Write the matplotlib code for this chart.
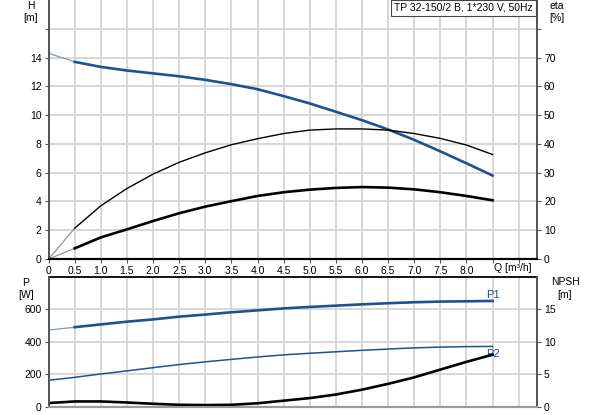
import numpy as np
import matplotlib
matplotlib.use("Agg")
from matplotlib import pyplot as plt
from matplotlib import transforms

plt.rcParams['font.family'] = ['Liberation Sans', 'DejaVu Sans']
plt.rcParams['font.size'] = 7.5

# flow points [m3/h]
q = [0, 0.5, 1.0, 1.5, 2.0, 2.5, 3.0, 3.5, 4.0, 4.5, 5.0, 5.5, 6.0, 6.5, 7.0, 7.5, 8.0, 8.5]

# head [m]
head = [14.3, 13.7, 13.35, 13.1, 12.9, 12.7, 12.45, 12.15, 11.8, 11.32, 10.81, 10.23, 9.65, 9.0, 8.28, 7.48, 6.65, 5.8]
# efficiencies [%]
eta_pump = [0, 10.7, 18.5, 24.5, 29.5, 33.6, 36.9, 39.7, 41.8, 43.6, 44.8, 45.2, 45.2, 44.8, 43.6, 41.9, 39.6, 36.3]
eta_total = [0, 3.7, 7.5, 10.3, 13.2, 15.9, 18.2, 20.1, 21.9, 23.2, 24.1, 24.7, 25.0, 24.8, 24.2, 23.2, 21.9, 20.4]
# power [W]
p1 = [472, 490, 507, 524, 538, 555, 568, 582, 594, 606, 615, 623, 631, 638, 644, 648, 650, 652]
p2 = [162, 180, 201, 220, 240, 259, 276, 291, 306, 319, 329, 338, 347, 355, 362, 367, 370, 371]
# NPSH [m]
npsh = [0.53, 0.78, 0.78, 0.62, 0.42, 0.26, 0.22, 0.26, 0.5, 0.9, 1.3, 1.85, 2.6, 3.5, 4.5, 5.7, 6.9, 8.0]

title = "TP 32-150/2 B, 1*230 V, 50Hz"
xticks = [0, 0.5, 1.0, 1.5, 2.0, 2.5, 3.0, 3.5, 4.0, 4.5, 5.0, 5.5, 6.0, 6.5, 7.0, 7.5, 8.0, 8.5, 9.0]
xlabels = ['0', '0.5', '1.0', '1.5', '2.0', '2.5', '3.0', '3.5', '4.0', '4.5', '5.0', '5.5', '6.0', '6.5', '7.0', '7.5', '8.0', '', '']

blue = '#1d5190'
blue_thin = '#7f97b8'
grey_thin = '#8a8a8a'
grid_c = '#d4d4d4'

W, H = 593, 415
fig = plt.figure(figsize=(W / 100, H / 100), dpi=100)

def px(x0, y0, x1, y1):
    return [x0 / W, 1 - y1 / H, (x1 - x0) / W, (y1 - y0) / H]

ax1 = fig.add_axes(px(48.6, 0, 537, 259))
ax2 = ax1.twinx()
ax3 = fig.add_axes(px(48.6, 277, 537, 406.5))
ax4 = ax3.twinx()

def style(ax, bottom_col):
    ax.spines['top'].set_visible(False)
    ax.spines['left'].set_color('#555555')
    ax.spines['right'].set_color('#555555')
    ax.spines['bottom'].set_color(bottom_col)
    ax.spines['left'].set_linewidth(1.3)
    ax.spines['right'].set_linewidth(1.3)
    ax.spines['bottom'].set_linewidth(1.5)
    ax.tick_params(length=3, width=0.8, colors='#555555', labelcolor='black', pad=2)

for a in (ax1, ax2):
    style(a, 'black')
for a in (ax3, ax4):
    style(a, '#9a9a9a')
ax3.spines['top'].set_visible(True)
ax3.spines['top'].set_color('black')
ax3.spines['top'].set_linewidth(1.3)
ax4.spines['top'].set_visible(False)

# ---- top chart: head + efficiency
for a in (ax1, ax3):
    a.set_xlim(0, 9.35)
    a.set_xticks(xticks)
    a.grid(True, color=grid_c, linewidth=1.3)
    a.set_axisbelow(True)

ax1.set_xticklabels(xlabels)
ax1.set_ylim(0, 18)
ax1.set_yticks(range(0, 17, 2))
ax1.set_yticklabels(['0', '2', '4', '6', '8', '10', '12', '14', ''])
ax2.set_ylim(0, 90)
ax2.set_yticks(range(0, 81, 10))
ax2.set_yticklabels(['0', '10', '20', '30', '40', '50', '60', '70', ''])

ax1.plot(q[:2], head[:2], color=blue_thin, linewidth=0.9)
ax1.plot(q[1:], head[1:], color=blue, linewidth=1.9)
ax2.plot(q[:2], eta_pump[:2], color=grey_thin, linewidth=0.8)
ax2.plot(q[1:], eta_pump[1:], color='black', linewidth=1.0)
ax2.plot(q[:2], eta_total[:2], color=grey_thin, linewidth=0.8)
ax2.plot(q[1:], eta_total[1:], color='black', linewidth=1.9)

trans = transforms.blended_transform_factory(ax1.transData, ax1.transAxes)
ax1.text(8.52, -0.035, "Q [m³/h]", transform=trans, ha='left', va='center')

fig.text(31 / W, 1 - 6 / H, "H", ha='center', va='center')
fig.text(31 / W, 1 - 18 / H, "[m]", ha='center', va='center')
fig.text(557 / W, 1 - 6 / H, "eta", ha='center', va='center')
fig.text(557 / W, 1 - 18 / H, "[%]", ha='center', va='center')

fig.text(533 / W, 1 - 8 / H, title, ha='right', va='center',
         bbox=dict(boxstyle='square,pad=0.3', fc='white', ec='#444444', lw=0.8))

# ---- bottom chart: power + NPSH
ax3.set_xticklabels([])
ax3.tick_params(axis='x', length=0)
ax4.tick_params(axis='x', length=0)
ax3.set_ylim(0, 800)
ax3.set_yticks([0, 200, 400, 600])
ax4.set_ylim(0, 20)
ax4.set_yticks([0, 5, 10, 15])

ax3.plot(q[:2], p1[:2], color=blue_thin, linewidth=0.9)
ax3.plot(q[1:], p1[1:], color=blue, linewidth=1.9)
ax3.plot(q, p2, color=blue, linewidth=1.1)
ax4.plot(q, npsh, color='black', linewidth=1.9)

ax3.text(8.5, p1[-1] + 35, "P1", color=blue, ha='center', va='center', fontsize=8)
ax3.text(8.5, p2[-1] - 45, "P2", color=blue, ha='center', va='center', fontsize=8)

fig.text(26 / W, 1 - 283 / H, "P", ha='center', va='center')
fig.text(26 / W, 1 - 295 / H, "[W]", ha='center', va='center')
fig.text(565 / W, 1 - 282 / H, "NPSH", ha='center', va='center')
fig.text(565 / W, 1 - 295 / H, "[m]", ha='center', va='center')

fig.savefig("out.png", dpi=100)
